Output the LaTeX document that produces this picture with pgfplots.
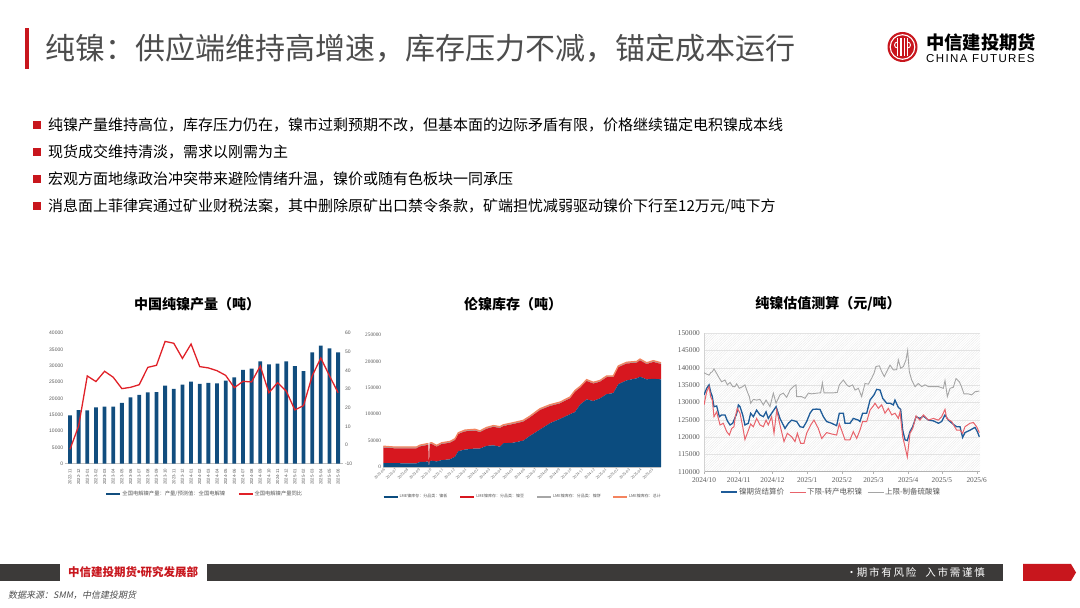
\documentclass[border=0pt]{standalone}
\usepackage{pgfplots}
\pgfplotsset{compat=1.18}
\usepackage{pgfplotstable}
\usepackage{fontspec}
\setmainfont{Liberation Serif}
\setsansfont{Liberation Sans}
\newfontfamily\cjk{Noto Sans CJK SC}
\newfontfamily\cjkit[FakeSlant=0.2]{Noto Sans CJK SC}
\newfontfamily\logofont[LetterSpace=12]{Liberation Sans}
\usetikzlibrary{patterns.meta}

\definecolor{slidered}{HTML}{C8161D}
\definecolor{titlegray}{HTML}{4D4D4D}
\definecolor{footdark}{HTML}{3C3A39}
\definecolor{labelgray}{HTML}{595959}
\definecolor{barblue}{HTML}{114D7E}
\definecolor{linered}{HTML}{E02128}
\definecolor{lmeblue}{HTML}{0B4C7F}
\definecolor{lmered}{HTML}{D7171F}
\definecolor{lmegray}{HTML}{A6A6A6}
\definecolor{lmeorange}{HTML}{F4845F}
\definecolor{pxblue}{HTML}{1F5C99}
\definecolor{pxred}{HTML}{E8636B}
\definecolor{pxgray}{HTML}{A5A5A5}

\pgfplotsset{tickfmt/.style={/pgf/number format/fixed, /pgf/number format/precision=0,
  /pgf/number format/1000 sep={}, /pgf/number format/assume math mode=true}}

% LME nickel stocks, x = months since 2023-06
\pgfplotstableread{
m      blue   red    gray  total
0      7600   29400  2500  39500
0.857  7200   28300  2500  38000
2.0    7000   28500  2500  38000
2.857  7000   28500  2500  38000
3.143  9500   29500  2500  41500
3.714  10000  31500  2500  44000
3.857  10000  32000  2500  44500
3.914  0      0      0     nan
3.971  10500  32500  2500  45500
4.143  12000  31500  2500  46000
4.571  10500  28000  2500  41000
5.0    13000  30500  2500  46000
5.714  14500  31500  2500  48500
6.143  19500  31500  2500  53500
6.429  30000  32500  2500  65000
7.0    33000  34500  2500  70000
7.857  35000  34000  2500  71500
8.286  35000  31000  2500  68500
8.857  40000  32500  2500  75000
9.429  41000  35000  2500  78500
10.0   38500  35500  2500  76500
10.286 45000  32500  2500  80000
11.143 46000  35500  2500  84000
12.0   50000  36000  2500  88500
12.571 59000  35000  2500  96500
13.429 71000  37000  2500  110500
14.286 83000  32500  2500  118000
15.143 91000  29500  2500  123000
16.0   100000 30000  2500  132500
16.429 104000 38500  2500  145000
16.857 118000 32000  2500  152500
17.429 128000 35000  2500  165500
18.0   125000 33000  2500  160500
18.571 130000 31500  2500  164000
19.143 138000 32000  2500  172500
19.714 140000 30000  2500  172500
20.143 157000 32000  2500  191500
20.857 164000 32000  2500  198500
21.714 168000 29500  2500  200000
22.0   171000 31000  2500  204500
22.571 166000 29000  2500  197500
23.143 167000 32000  2500  201500
23.8   166000 29000  2500  197500
}\lmetable

% nickel valuation, x = days since 2024-10-01
\pgfplotstableread{
d v
0 132200
2.4 134100
4.5 135100
5.9 133100
7.4 131700
8.9 128800
11.3 129000
13.7 125900
15.7 126400
18.7 126400
20.8 124700
23.2 123500
25.6 124000
27.6 125600
29.1 126700
30.6 129300
32.1 128800
34.5 126400
36.5 123500
39.5 124000
41.6 126900
44.0 125900
46.9 127800
49.9 126400
52.9 125900
55.3 127300
57.3 125400
60.3 126900
64.2 128800
67.7 125400
72.2 122500
75.2 124000
78.1 124900
82.6 124500
85.6 123000
88.5 122800
91.5 124500
94.5 126900
96.9 128000
100.4 128100
103.4 128000
106.4 125900
109.3 124500
113.8 124000
118.2 123300
120.6 126900
124.2 126900
125.7 124000
130.1 124000
133.1 125400
137.6 124900
139.0 124500
141.4 126900
145.0 126900
148.0 130700
151.5 132200
153.9 133800
156.9 133600
159.3 131200
162.8 129800
165.8 129800
168.8 129300
170.2 130700
173.2 128600
175.3 128000
177.1 122000
179.2 119200
181.2 119000
183.6 121600
186.0 123000
189.0 125900
192.5 125400
195.5 126100
200.0 124900
204.4 124700
208.9 124000
211.8 124500
214.8 126400
217.8 124900
222.2 123700
225.2 123000
228.2 123000
230.5 119900
232.6 121300
237.1 122000
241.5 122800
243.6 121600
245.4 120100
}\settletable

\pgfplotstableread{
d v
0 129300
2.4 133100
4.5 134600
5.9 131700
7.4 130700
8.9 125900
11.3 127300
14.3 123500
17.2 124000
20.2 121600
22.6 120600
24.7 122500
26.7 123000
27.9 125900
29.7 128300
32.1 126900
34.5 123000
36.5 119300
39.5 121900
41.6 123800
44.0 123000
46.9 125400
49.9 123500
52.9 123000
55.3 124900
57.3 123500
60.3 125900
62.4 121100
64.8 127800
67.7 123500
71.3 118700
74.3 121100
78.1 120100
81.1 118700
83.2 121100
86.2 118200
89.1 118200
91.5 121100
95.1 123500
98.0 124900
101.9 122500
104.9 119600
109.3 121300
113.8 120900
118.2 120600
120.6 123800
124.2 120600
125.7 119200
130.1 119200
133.1 121600
136.1 119600
139.0 122000
141.4 124500
145.0 124500
148.0 127800
150.9 129000
152.4 129800
155.4 128300
158.4 129300
161.3 126900
164.3 128300
167.3 126400
170.2 126900
173.2 125400
174.7 127300
177.1 120100
179.2 117200
181.2 114300
183.6 121100
186.0 122500
189.0 126100
192.5 124900
195.5 126400
200.0 124900
204.4 125400
208.9 124900
211.8 125900
214.8 128000
216.3 125400
220.7 124500
225.2 122000
228.2 122000
230.5 121100
232.6 123000
237.1 124000
240.1 124200
243.0 123000
245.4 121300
}\lowtable

\pgfplotstableread{
d v
0 138600
2.4 138200
4.5 137900
5.9 138600
7.4 138900
8.9 139700
11.3 138400
13.7 137000
15.7 136000
18.7 136500
20.8 135100
23.2 135800
25.6 134600
27.6 134600
29.1 135400
31.5 134100
34.5 134600
36.5 135100
38.6 133100
40.4 131700
41.6 129800
44.0 130900
46.9 130700
49.9 130900
52.9 129300
55.3 130700
58.8 128800
61.8 132700
64.2 129800
67.7 132200
70.7 132700
73.7 131500
76.7 133600
79.6 134600
82.0 135100
82.6 131700
87.0 131700
90.0 131200
93.0 132700
96.0 132500
100.4 132700
104.0 132800
105.5 135700
107.0 132800
110.8 132800
115.3 132800
118.8 132900
120.6 135100
124.2 136500
127.2 135100
129.5 134600
132.5 135100
134.6 133600
137.6 134100
140.5 131700
143.5 135500
146.5 135300
149.4 137000
151.5 138400
153.3 140400
156.3 140600
158.4 138900
160.7 137500
162.8 138900
165.8 140800
168.8 139400
171.7 139500
173.2 142300
175.3 139900
177.7 140400
180.0 142300
181.5 145000
183.0 138900
185.1 136500
188.1 134600
191.0 135500
194.0 134600
197.0 135100
200.0 134600
204.4 134600
208.9 134600
213.3 134100
214.8 136300
216.9 131700
219.3 134100
222.2 134400
224.6 136900
227.6 136000
229.7 134400
231.7 132500
235.6 132500
238.6 132200
241.5 133100
245.4 133300
}\uptable

\begin{document}
\begin{tikzpicture}[x=1pt,y=1pt]
\path[use as bounding box] (0,0) rectangle (1080,608);

% header
\fill[slidered] (25,580) rectangle (29,539);
\node[anchor=west, inner sep=0, text=titlegray, font=\cjk\fontsize{30}{30}\selectfont] at (45,560)
  {纯镍：供应端维持高增速，库存压力不减，锚定成本运行};
% logo
\fill[slidered] (902.5,561) circle (15);
\draw[white, line width=1.1pt] (902.5,561) circle (12.3);
\foreach \dx in {-5,-1.7,1.7,5} \fill[white] (902.5+\dx-0.7,552) rectangle (902.5+\dx+0.7,570);
\draw[white, line width=0.9pt] (897.5,566) arc (90:270:3) (907.5,566) arc (90:-90:3);
\node[anchor=west, inner sep=0, font=\cjk\bfseries\fontsize{18.3}{18.3}\selectfont] at (926,565.5) {中信建投期货};
\node[anchor=west, inner sep=0, font=\logofont\fontsize{11.5}{11.5}\selectfont] at (926,549) {CHINA FUTURES};

% bullets
\foreach \yy/\txt in {483/{纯镍产量维持高位，库存压力仍在，镍市过剩预期不改，但基本面的边际矛盾有限，价格继续锚定电积镍成本线},
                       456/{现货成交维持清淡，需求以刚需为主},
                       429/{宏观方面地缘政治冲突带来避险情绪升温，镍价或随有色板块一同承压},
                       402/{消息面上菲律宾通过矿业财税法案，其中删除原矿出口禁令条款，矿端担忧减弱驱动镍价下行至12万元/吨下方}} {
  \fill[slidered] (33,\yy-3.8) rectangle (40.5,\yy+3.8);
  \node[anchor=west, inner sep=0, font=\cjk\fontsize{15}{15}\selectfont] at (48,\yy) {\txt};
}

% chart titles
\node[font=\cjk\bfseries\fontsize{14}{14}\selectfont] at (197,304) {中国纯镍产量（吨）};
\node[font=\cjk\bfseries\fontsize{14}{14}\selectfont] at (513,304) {伦镍库存（吨）};
\node[font=\cjk\bfseries\fontsize{14}{14}\selectfont] at (828,304) {纯镍估值测算（元/吨）};

% footer
\fill[footdark] (0,27) rectangle (60,44);
\node[anchor=west, inner sep=0, text=slidered, font=\cjk\bfseries\fontsize{11.5}{11.5}\selectfont] at (68,35.5) {中信建投期货{\kern-4pt}·{\kern-4pt}研究发展部};
\fill[footdark] (207,27) rectangle (1003,44);
\node[anchor=east, inner sep=0, text=white, font=\cjk\fontsize{10.5}{10.5}\selectfont] at (985,35.5) {•期\,市\,有\,风\,险\hspace{9pt}入\,市\,需\,谨\,慎};
\fill[slidered] (1023,27) -- (1071,27) -- (1076,35.5) -- (1071,44) -- (1023,44) -- cycle;
\node[anchor=west, inner sep=0, text=titlegray, font=\cjkit\fontsize{9}{9}\selectfont] at (8,13) {数据来源：SMM，中信建投期货};

% ---------- chart 1: bars ----------
\begin{axis}[
  at={(64.8pt,144.3pt)}, anchor=south west,
  scale only axis, width=278.5pt, height=130.7pt,
  xmin=-0.6, xmax=31.6, ymin=0, ymax=40000,
  ytick={0,5000,...,40000}, scaled y ticks=false,
  xtick={0,...,31},
  xticklabels={2022-11,2022-12,2023-01,2023-02,2023-03,2023-04,2023-05,2023-06,2023-07,2023-08,2023-09,2023-10,2023-11,2023-12,2024-01,2024-02,2024-03,2024-04,2024-05,2024-06,2024-07,2024-08,2024-09,2024-10,2024-11,2024-12,2025-01,2025-02,2025-03,2025-04,2025-05,2025-06},
  axis x line*=bottom, axis y line*=left,
  x axis line style={-, gray!50}, y axis line style={draw=none},
  tick style={draw=none},
  x tick label style={rotate=90, anchor=east, font=\sffamily\fontsize{4.3}{4.3}\selectfont, text=labelgray, inner sep=1pt},
  y tick label style={font=\sffamily\fontsize{5}{5}\selectfont, text=labelgray, inner sep=1.5pt},
  tickfmt,
  ybar, bar width=3.8pt,
]
\addplot[fill=barblue, draw=none] coordinates {(0,14800)(1,16400)(2,16300)(3,17200)(4,17500)(5,17500)(6,18600)(7,20300)(8,21100)(9,21800)(10,21900)(11,23900)(12,22900)(13,24200)(14,25100)(15,24400)(16,24700)(17,24600)(18,25400)(19,26400)(20,28700)(21,29100)(22,31300)(23,30400)(24,30600)(25,31300)(26,29900)(27,28300)(28,34100)(29,36100)(30,35300)(31,34100)};
\end{axis}
\begin{axis}[
  at={(64.8pt,144.3pt)}, anchor=south west,
  scale only axis, width=278.5pt, height=130.7pt,
  xmin=-0.6, xmax=31.6, ymin=-10, ymax=60,
  ytick={-10,0,...,60},
  axis y line*=right, axis x line=none,
  y axis line style={draw=none}, tick style={draw=none},
  y tick label style={font=\sffamily\fontsize{5}{5}\selectfont, text=labelgray, inner sep=1.5pt},
  yticklabel={\pgfmathprintnumber[fixed,precision=0,assume math mode=true]{\tick}},
  legend image code/.code={\draw[#1] (0pt,0pt) -- (14pt,0pt);},
  legend style={at={(0.5,-0.232)}, anchor=center, draw=none, fill=none, legend columns=-1,
    font=\cjk\fontsize{5.3}{5.3}\selectfont, text=labelgray, nodes={inner sep=1pt},
    /tikz/every even column/.append style={column sep=12pt}},
]
\addlegendimage{line width=2.6pt, barblue}
\addlegendentry{全国电解镍产量：产量/预测值：全国电解镍}
\addplot[linered, line width=1.3pt] coordinates {(0,-2.3)(1,10.2)(2,37)(3,34)(4,39.5)(5,36.3)(6,30.2)(7,30.9)(8,32.3)(9,41.6)(10,42.7)(11,55.5)(12,54.5)(13,46.4)(14,54.1)(15,42)(16,41.3)(17,39.8)(18,37.3)(19,30.7)(20,34.1)(21,33.8)(22,42.3)(23,28)(24,33.4)(25,28.9)(26,18.8)(27,21.1)(28,37)(29,46.6)(30,37.1)(31,28)};
\addlegendentry{全国电解镍产量同比}
\end{axis}

% ---------- chart 2: LME stocks ----------
\begin{axis}[
  at={(383.3pt,141pt)}, anchor=south west,
  scale only axis, width=277.7pt, height=132pt,
  xmin=0, xmax=23.8, ymin=0, ymax=250000,
  ytick={0,50000,...,250000}, scaled y ticks=false,
  xtick={0,...,23},
  xticklabels={2023-06,2023-07,2023-08,2023-09,2023-10,2023-11,2023-12,2024-01,2024-02,2024-03,2024-04,2024-05,2024-06,2024-07,2024-08,2024-09,2024-10,2024-11,2024-12,2025-01,2025-02,2025-03,2025-04,2025-05},
  axis x line*=bottom, axis y line*=left,
  x axis line style={-, gray!50}, y axis line style={draw=none},
  tick style={draw=none},
  x tick label style={rotate=45, anchor=north east, font=\fontsize{4}{4}\selectfont, text=labelgray, inner sep=0.8pt},
  y tick label style={font=\fontsize{5.3}{5.3}\selectfont, text=labelgray, inner sep=2pt},
  tickfmt,
  stack plots=y, area style,
]
\addplot[fill=lmeblue, draw=none] table[x=m, y=blue] {\lmetable} \closedcycle;
\addplot[fill=lmered, draw=none] table[x=m, y=red] {\lmetable} \closedcycle;
\addplot[fill=lmegray, draw=none] table[x=m, y=gray] {\lmetable} \closedcycle;
\end{axis}
\begin{axis}[
  at={(383.3pt,141pt)}, anchor=south west,
  scale only axis, width=277.7pt, height=132pt,
  xmin=0, xmax=23.8, ymin=0, ymax=250000,
  hide axis, unbounded coords=jump,
  legend image code/.code={\draw[#1] (0pt,0pt) -- (14pt,0pt);},
  legend style={at={(0.5,-0.227)}, anchor=center, draw=none, fill=none, legend columns=-1,
    font=\cjk\fontsize{4}{4}\selectfont, text=labelgray, nodes={inner sep=1pt},
    /tikz/every even column/.append style={column sep=11pt}},
]
\addlegendimage{line width=2pt, lmeblue}
\addlegendentry{LME镍库存：分品类：镍板}
\addlegendimage{line width=2pt, lmered}
\addlegendentry{LME镍库存：分品类：镍豆}
\addlegendimage{line width=2pt, lmegray}
\addlegendentry{LME镍库存：分品类：镍饼}
\addplot[lmeorange, line width=1.2pt] table[x=m, y=total] {\lmetable};
\addlegendentry{LME镍库存：总计}
\end{axis}

% ---------- chart 3: valuation ----------
\begin{axis}[
  at={(704pt,136.3pt)}, anchor=south west,
  scale only axis, width=276pt, height=138.4pt,
  xmin=0, xmax=246, ymin=110000, ymax=150000,
  ytick={110000,115000,...,150000}, scaled y ticks=false,
  xtick={0,31,61,92,123,151,182,212,243},
  xticklabels={2024/10,2024/11,2024/12,2025/1,2025/2,2025/3,2025/4,2025/5,2025/6},
  ymajorgrids, grid style={gray!22, line width=0.4pt},
  axis background/.style={pattern={Lines[angle=45, distance=1.8pt, line width=0.3pt]}, pattern color=gray!20},
  axis x line*=bottom, axis y line*=left,
  x axis line style={-, gray!60}, y axis line style={-, gray!35},
  ytick style={draw=none}, xtick style={gray!60}, tick align=outside, major tick length=2.5pt,
  tick label style={font=\fontsize{7.3}{7.3}\selectfont, text=labelgray},
  y tick label style={inner sep=1.5pt},
  tickfmt,
  legend image code/.code={\draw[#1] (0pt,0pt) -- (16pt,0pt);},
  legend style={at={(0.46,-0.147)}, anchor=center, draw=none, fill=none, legend columns=-1,
    font=\cjk\fontsize{7.5}{7.5}\selectfont, text=labelgray, nodes={inner sep=1pt},
    /tikz/every even column/.append style={column sep=4pt}},
]
\addplot[pxblue, line width=1.3pt] table[x=d, y=v] {\settletable};
\addlegendentry{镍期货结算价}
\addplot[pxred, line width=1pt] table[x=d, y=v] {\lowtable};
\addlegendentry{下限-转产电积镍}
\addplot[pxgray, line width=0.9pt] table[x=d, y=v] {\uptable};
\addlegendentry{上限-制备硫酸镍}
\end{axis}
\end{tikzpicture}
\end{document}
